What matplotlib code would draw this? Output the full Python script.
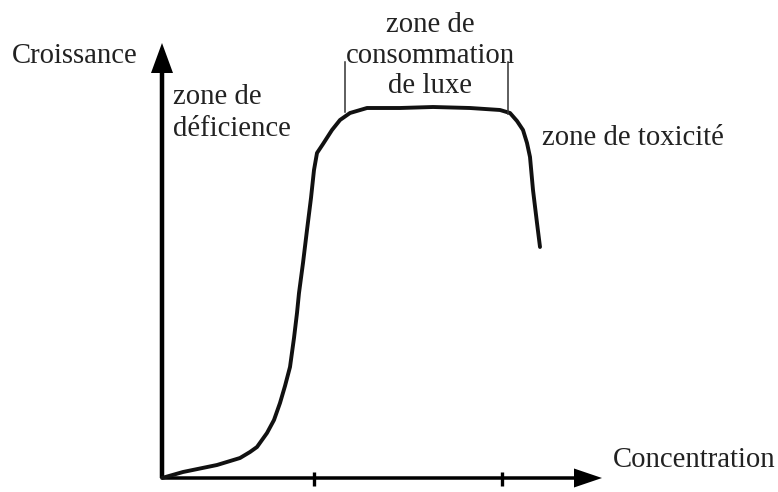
import matplotlib.pyplot as plt

# courbe (origine = coin des axes, 1 unité ~ 1 pixel)
concentration = [0, 21, 55, 78, 88, 95, 105, 112, 118, 123, 128, 132, 135, 137, 141,
                 145, 149, 152, 155, 161, 170, 178, 188, 205, 238, 271, 308, 338,
                 348, 355, 361, 365, 368, 371, 375, 378]
croissance = [0, 6, 13, 20, 26, 31, 45, 58, 75, 92, 111, 140, 165, 185, 215,
              248, 280, 308, 325, 334, 348, 358, 365, 370, 370, 371, 370, 368,
              365, 357, 348, 335, 321, 288, 255, 231]
ticks_x = [152, 340]
bracket_x = [183, 346]

W, H = 778, 492
ox, oy = 162, 478  # origine des axes en pixels

fig = plt.figure(figsize=(W / 100, H / 100), dpi=100)
ax = fig.add_axes([0, 0, 1, 1])
ax.set_xlim(-ox, W - ox)
ax.set_ylim(-(H - oy), oy)
ax.axis("off")

font = dict(family="Liberation Serif", size=20.7, color="#222222")

# axes avec flèches
ax.arrow(0, 0, 440, 0, width=3.5, head_width=19, head_length=28,
         length_includes_head=True, color="black", lw=0)
ax.arrow(0, 0, 0, 435, width=4.5, head_width=22, head_length=30,
         length_includes_head=True, color="black", lw=0)
for t in ticks_x:
    ax.plot([t, t], [-8, 6], color="black", lw=2.4, solid_capstyle="butt")

# courbe de croissance
ax.plot(concentration, croissance, color="#111111", lw=2.8,
        solid_joinstyle="round", solid_capstyle="round")

# crochet de la zone de luxe
ax.plot([bracket_x[0], bracket_x[0]], [366, 416], color="#333333", lw=1.1)
ax.plot([bracket_x[1], bracket_x[1]], [364, 416], color="#333333", lw=1.1)

ax.text(-150, 415, "Croissance", ha="left", va="baseline", **font)
ax.text(451, 11, "Concentration", ha="left", va="baseline", **font)
ax.text(11, 374, "zone de", ha="left", va="baseline", **font)
ax.text(11, 342, "déficience", ha="left", va="baseline", **font)
ax.text(268, 446, "zone de", ha="center", va="baseline", **font)
ax.text(268, 415, "consommation", ha="center", va="baseline", **font)
ax.text(268, 385, "de luxe", ha="center", va="baseline", **font)
ax.text(380, 333, "zone de toxicité", ha="left", va="baseline", **font)

fig.savefig("out.png", dpi=100)
